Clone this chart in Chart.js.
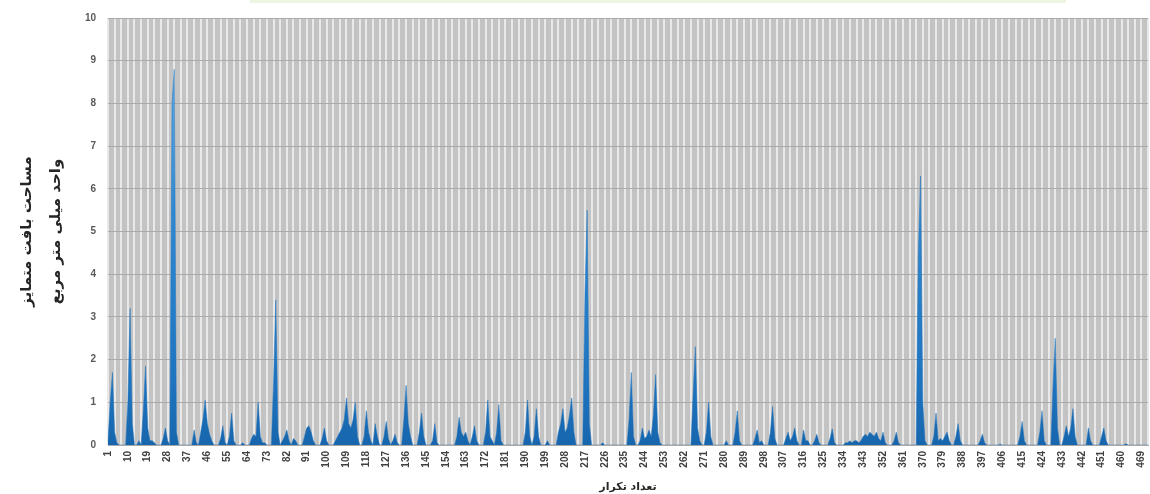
<!DOCTYPE html>
<html>
<head>
<meta charset="utf-8">
<script src="https://cdn.jsdelivr.net/npm/chart.js"></script>
<style>
  body { margin: 0; background: #fff; }
</style>
</head>
<body>
<canvas id="areaChart" width="1150" height="494"></canvas>
<script>
// مقادیر خوانده شده از نمودار (مساحت، میلی متر مربع) برای هر تکرار
const values = [
  0.1, 1.0, 1.7, 0.3, 0.05, 0, 0, 0, 0, 1.0,
  3.2, 0.5, 0, 0, 0.1, 0, 0.8, 1.85, 0.4, 0.1,
  0.1, 0.05, 0, 0, 0, 0.15, 0.4, 0.1, 0, 8.0,
  8.8, 0.3, 0, 0, 0, 0, 0, 0, 0, 0.35,
  0.05, 0, 0.3, 0.6, 1.05, 0.5, 0.25, 0.1, 0, 0,
  0, 0.15, 0.45, 0.05, 0, 0.2, 0.75, 0.1, 0, 0,
  0, 0.05, 0, 0, 0, 0.15, 0.25, 0.2, 1.0, 0.2,
  0.05, 0.05, 0, 0, 0, 1.5, 3.4, 0.3, 0, 0.1,
  0.2, 0.35, 0.1, 0, 0.15, 0.1, 0, 0, 0, 0.2,
  0.4, 0.45, 0.3, 0.1, 0, 0, 0, 0.15, 0.4, 0.1,
  0, 0, 0, 0.1, 0.2, 0.3, 0.4, 0.6, 1.1, 0.5,
  0.4, 0.6, 1.0, 0.2, 0, 0, 0.2, 0.8, 0.3, 0.1,
  0, 0.5, 0.2, 0, 0, 0.2, 0.55, 0.15, 0, 0.1,
  0.25, 0.05, 0, 0, 0.6, 1.4, 0.5, 0.2, 0, 0,
  0, 0.3, 0.75, 0.2, 0, 0, 0, 0.1, 0.5, 0.05,
  0, 0, 0, 0, 0, 0, 0, 0, 0.2, 0.65,
  0.3, 0.2, 0.3, 0.1, 0, 0.2, 0.45, 0.1, 0, 0,
  0, 0.3, 1.05, 0.2, 0.1, 0, 0.3, 0.95, 0.1, 0,
  0, 0, 0, 0, 0, 0, 0, 0, 0, 0.3,
  1.05, 0.2, 0, 0.2, 0.85, 0.2, 0, 0, 0, 0.1,
  0, 0, 0, 0, 0.3, 0.5, 0.85, 0.3, 0.4, 0.7,
  1.1, 0.3, 0, 0, 0, 0, 3.5, 5.5, 0.5, 0,
  0, 0, 0, 0, 0.05, 0, 0, 0, 0, 0,
  0, 0, 0, 0, 0, 0, 0.6, 1.7, 0.2, 0,
  0, 0.1, 0.4, 0.15, 0.2, 0.35, 0.2, 0.7, 1.65, 0.3,
  0.05, 0, 0, 0, 0, 0, 0, 0, 0, 0,
  0, 0, 0, 0, 0, 1.2, 2.3, 0.4, 0.1, 0,
  0, 0.3, 1.0, 0.2, 0, 0, 0, 0, 0, 0,
  0.1, 0, 0, 0, 0.3, 0.8, 0.1, 0, 0, 0,
  0, 0, 0, 0.15, 0.35, 0.05, 0.1, 0, 0, 0,
  0.3, 0.9, 0.15, 0, 0, 0, 0, 0.15, 0.3, 0.1,
  0.2, 0.4, 0.1, 0, 0, 0.35, 0.1, 0.1, 0, 0,
  0.1, 0.25, 0.05, 0, 0, 0, 0, 0.15, 0.38, 0.05,
  0, 0, 0, 0, 0.05, 0.05, 0.1, 0.05, 0.1, 0.1,
  0.05, 0.1, 0.2, 0.25, 0.2, 0.3, 0.25, 0.2, 0.3, 0.15,
  0.1, 0.3, 0.05, 0, 0, 0, 0.1, 0.3, 0.05, 0,
  0, 0, 0, 0, 0, 0, 0, 4.5, 6.3, 1.0,
  0.1, 0, 0, 0, 0.2, 0.75, 0.1, 0.15, 0.1, 0.2,
  0.3, 0.1, 0, 0, 0.2, 0.5, 0.1, 0, 0, 0,
  0, 0, 0, 0, 0, 0.1, 0.25, 0.05, 0, 0,
  0, 0, 0, 0, 0.02, 0, 0, 0, 0, 0,
  0, 0, 0, 0.2, 0.55, 0.1, 0, 0, 0, 0,
  0, 0, 0.3, 0.8, 0.1, 0, 0, 0, 1.4, 2.5,
  0.4, 0, 0, 0.2, 0.45, 0.2, 0.4, 0.85, 0.2, 0,
  0, 0, 0, 0, 0.4, 0.1, 0, 0, 0, 0,
  0.2, 0.4, 0.1, 0, 0, 0, 0, 0, 0, 0,
  0, 0.03, 0, 0, 0, 0, 0, 0, 0, 0,
  0, 0
];
// شماره تکرارها 1 تا n
const categories = values.map((v, i) => String(i + 1));
const yTicks = [0, 1, 2, 3, 4, 5, 6, 7, 8, 9, 10];

const yTitle = ['مساحت بافت متمایز', 'واحد میلی متر مربع'];
const xTitle = 'تعداد تکرار';

const plotBg = {
  id: 'plotBg',
  beforeDraw(chart) {
    const { ctx, chartArea: a } = chart;
    ctx.save();
    ctx.fillStyle = '#c3c3c3';
    ctx.fillRect(a.left, a.top, a.right - a.left, a.bottom - a.top);
    // نوار کم رنگ بالای تصویر
    ctx.fillStyle = '#eef5e2';
    ctx.fillRect(250, 0, 816, 3);
    ctx.restore();
  }
};

function fillGradient(context) {
  const { ctx, chartArea } = context.chart;
  if (!chartArea) return '#1f6fb8';
  const g = ctx.createLinearGradient(0, chartArea.bottom, 0, chartArea.top);
  g.addColorStop(0, '#1766ad');
  g.addColorStop(0.15, '#1f74c0');
  g.addColorStop(0.55, '#3089d2');
  g.addColorStop(1, '#74b4e6');
  return g;
}

const ctx = document.getElementById('areaChart').getContext('2d');
new Chart(ctx, {
  type: 'line',
  data: {
    labels: categories,
    datasets: [{
      data: values,
      fill: 'origin',
      backgroundColor: fillGradient,
      borderColor: '#1f72bc',
      borderWidth: 0.5,
      pointRadius: 0,
      tension: 0
    }]
  },
  plugins: [plotBg],
  options: {
    responsive: false,
    animation: false,
    layout: { padding: { top: 17, right: 2, left: 0, bottom: 0 } },
    plugins: {
      legend: { display: false },
      tooltip: { enabled: false }
    },
    scales: {
      x: {
        afterFit(scale) {
          scale.height = 49;
          scale.paddingLeft = 0;
          scale.paddingRight = 0;
        },
        grid: {
          drawTicks: false,
          color: c => (c.index % 3 === 0 ? '#e9e9e9' : 'rgba(0,0,0,0)'),
          lineWidth: 2
        },
        border: { color: '#a8a8a8' },
        ticks: {
          autoSkip: false,
          minRotation: 90,
          maxRotation: 90,
          padding: 6,
          color: '#404040',
          font: { family: 'Liberation Sans', size: 10, weight: 'bold' },
          callback(value, index) { return index % 9 === 0 ? categories[index] : ''; }
        },
        title: {
          display: true,
          text: xTitle,
          color: '#262626',
          padding: { top: 0, bottom: 0 },
          font: { family: 'DejaVu Sans', size: 11, weight: 'bold', lineHeight: 1.2 }
        }
      },
      y: {
        min: 0,
        max: 10,
        afterFit(scale) { scale.width = 108; },
        afterBuildTicks(scale) { scale.ticks = yTicks.map(v => ({ value: v })); },
        grid: { drawTicks: false, color: '#aaaaaa', lineWidth: 1 },
        border: { display: false },
        ticks: {
          padding: 12,
          color: '#595959',
          font: { family: 'Liberation Sans', size: 10, weight: 'bold' }
        },
        title: {
          display: true,
          text: yTitle,
          color: '#262626',
          padding: { top: 13, bottom: 0 },
          font: { family: 'DejaVu Sans', size: 15, weight: 'bold', lineHeight: 1.93 }
        }
      }
    }
  }
});
</script>
</body>
</html>
